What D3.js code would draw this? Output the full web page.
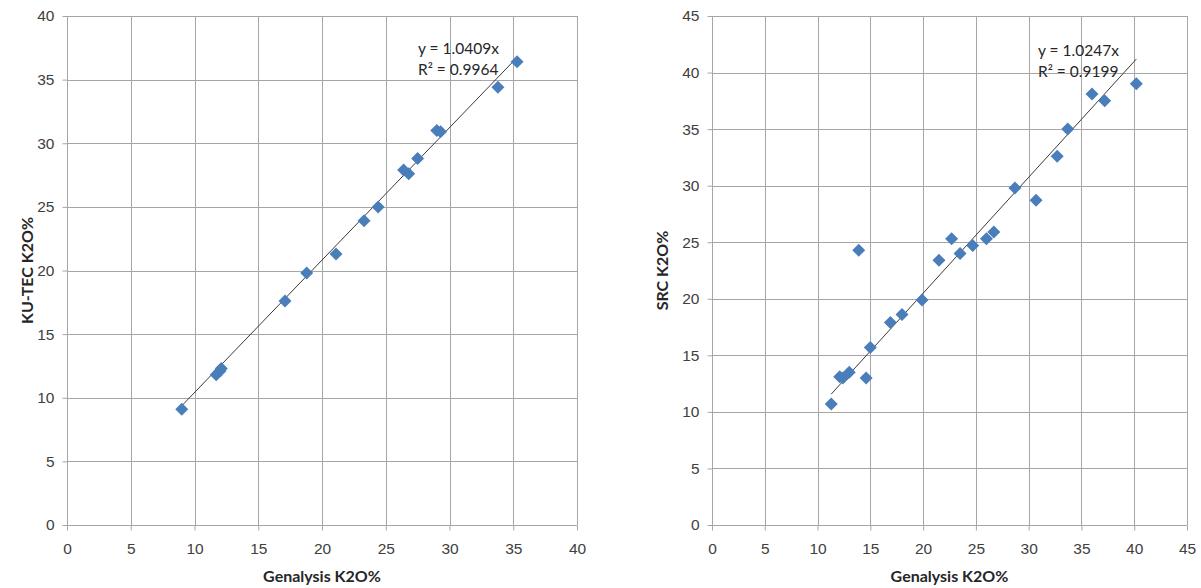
<!DOCTYPE html>
<html>
<head>
<meta charset="utf-8">
<script src="https://cdnjs.cloudflare.com/ajax/libs/d3/7.8.5/d3.min.js"></script>
<style>
    body { margin: 0; background: #fff; }
    svg { display: block; font-family: Lato, "Open Sans", sans-serif; }
    .tick text { font-size: 15.5px; fill: #404040; }
</style>
</head>
<body>
<svg id="chart" width="1201" height="588"></svg>
<script>
"use strict";

// Left panel: Genalysis vs KU-TEC
var kuTecX = [9.0, 11.7, 12.0, 12.1, 17.1, 18.8, 21.1, 23.3, 24.4, 26.4, 26.8, 27.5, 29.0, 29.3, 33.8, 35.3];
var kuTecY = [9.1, 11.8, 12.1, 12.3, 17.6, 19.8, 21.3, 23.9, 25.0, 27.9, 27.6, 28.8, 31.0, 30.9, 34.4, 36.4];
var kuTecSlope = 1.0409;
var kuTecLabels = ["y = 1.0409x", "R\u00B2 = 0.9964"];

// Right panel: Genalysis vs SRC
var srcX = [11.3, 12.1, 12.4, 13.0, 14.6, 13.9, 15.0, 16.9, 18.0, 19.9, 21.5, 22.7, 23.5, 24.7, 26.0, 26.7, 28.7, 30.7, 32.7, 33.7, 36.0, 37.2, 40.2];
var srcY = [10.7, 13.1, 13.0, 13.5, 13.0, 24.3, 15.7, 17.9, 18.6, 19.9, 23.4, 25.3, 24.0, 24.7, 25.3, 25.9, 29.8, 28.7, 32.6, 35.0, 38.1, 37.5, 39.0];
var srcSlope = 1.0247;
var srcLabels = ["y = 1.0247x", "R\u00B2 = 0.9199"];

var xTitle = "Genalysis K2O%";

var svg = d3.select("#chart");

var drawPanel = function (opts) {
    var x = d3.scaleLinear().domain([0, opts.max]).range([opts.left, opts.right]),
        y = d3.scaleLinear().domain([0, opts.max]).range([opts.bottom, opts.top]),
        ticks = d3.range(0, opts.max + 1, 5),
        g = svg.append("g");

    // grid
    g.append("g").selectAll("line")
        .data(ticks.slice(1))
        .enter()
        .append("line")
        .attr("x1", function (d) { return Math.round(x(d)) + 0.5; })
        .attr("x2", function (d) { return Math.round(x(d)) + 0.5; })
        .attr("y1", opts.top)
        .attr("y2", opts.bottom)
        .attr("stroke", "#a6a6a6");

    g.append("g").selectAll("line")
        .data(ticks.slice(1))
        .enter()
        .append("line")
        .attr("x1", opts.left)
        .attr("x2", opts.right)
        .attr("y1", function (d) { return Math.round(y(d)) + 0.5; })
        .attr("y2", function (d) { return Math.round(y(d)) + 0.5; })
        .attr("stroke", "#a6a6a6");

    var xAxis = g.append("g")
        .attr("transform", "translate(0," + (Math.round(opts.bottom) + 0.5) + ")")
        .call(d3.axisBottom(x).tickValues(ticks).tickSize(5).tickPadding(12));
    var yAxis = g.append("g")
        .attr("transform", "translate(" + (Math.round(opts.left) + 0.5) + ",0)")
        .call(d3.axisLeft(y).tickValues(ticks).tickSize(5).tickPadding(8));

    [xAxis, yAxis].forEach(function (a) {
        a.selectAll("path, line").attr("stroke", "#a6a6a6");
        a.select(".domain").attr("d", a === xAxis
            ? "M" + opts.left + ",0H" + opts.right
            : "M0," + opts.bottom + "V" + opts.top);
        a.selectAll("text").attr("font-family", null).attr("font-size", null);
    });

    // trendline through origin, from min x to max x
    var ext = d3.extent(opts.xs);
    g.append("line")
        .attr("x1", x(ext[0]))
        .attr("y1", y(ext[0] * opts.slope))
        .attr("x2", x(ext[1]))
        .attr("y2", y(ext[1] * opts.slope))
        .attr("stroke", "#3a3a3a")
        .attr("stroke-width", 1);

    var r = 6.5;
    g.append("g").selectAll("path")
        .data(opts.xs)
        .enter()
        .append("path")
        .attr("d", function (d, i) {
            var cx = x(d), cy = y(opts.ys[i]);
            return "M" + cx + "," + (cy - r) + "L" + (cx + r) + "," + cy +
                "L" + cx + "," + (cy + r) + "L" + (cx - r) + "," + cy + "Z";
        })
        .attr("fill", "#4a7ebb");

    g.selectAll("text.eq")
        .data(opts.labels)
        .enter()
        .append("text")
        .attr("class", "eq")
        .attr("x", opts.eqX)
        .attr("y", function (d, i) { return opts.eqY + i * 21; })
        .attr("font-size", 15.5)
        .attr("fill", "#262626")
        .text(function (d) { return d; });

    g.append("text")
        .attr("x", (opts.left + opts.right) / 2)
        .attr("y", 582)
        .attr("text-anchor", "middle")
        .attr("font-size", 16)
        .attr("font-weight", "bold")
        .attr("fill", "#262626")
        .text(xTitle);

    g.append("text")
        .attr("transform", "translate(" + opts.yTitleX + "," + ((opts.top + opts.bottom) / 2) + ") rotate(-90)")
        .attr("text-anchor", "middle")
        .attr("font-size", 16)
        .attr("font-weight", "bold")
        .attr("fill", "#262626")
        .text(opts.yTitle);
};

drawPanel({
    left: 67, right: 577, top: 16, bottom: 525, max: 40,
    xs: kuTecX, ys: kuTecY, slope: kuTecSlope, labels: kuTecLabels,
    eqX: 418, eqY: 54, yTitle: "KU-TEC K2O%", yTitleX: 33
});

drawPanel({
    left: 712, right: 1187, top: 16, bottom: 525, max: 45,
    xs: srcX, ys: srcY, slope: srcSlope, labels: srcLabels,
    eqX: 1038, eqY: 56, yTitle: "SRC K2O%", yTitleX: 668
});
</script>
</body>
</html>
